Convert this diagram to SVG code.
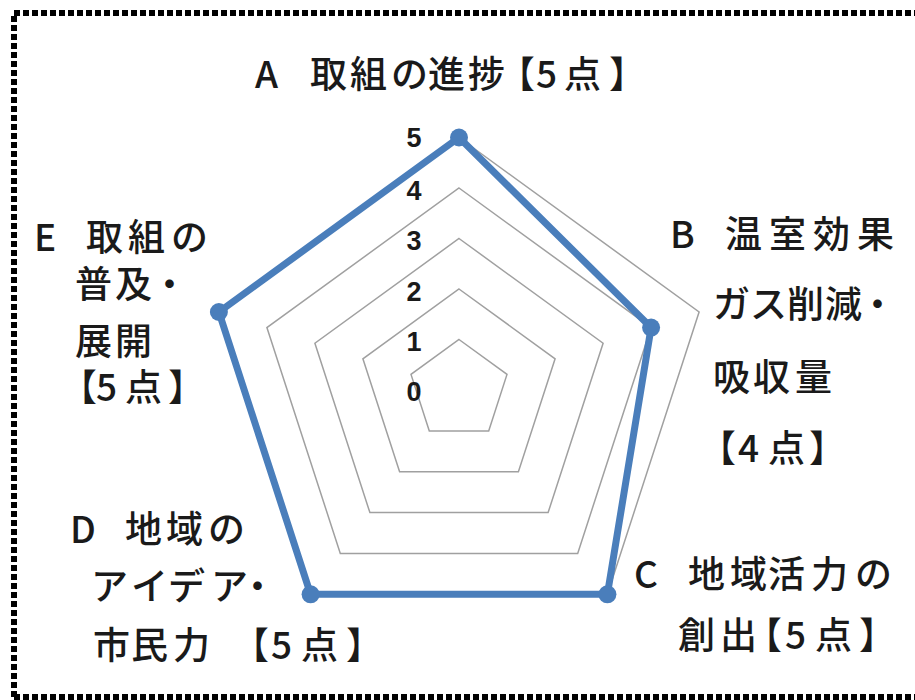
<svg xmlns="http://www.w3.org/2000/svg" width="915" height="700" viewBox="0 0 915 700">
<style>
.frame{fill:none;stroke:#000;stroke-width:6;stroke-dasharray:6 3}
.grid{fill:none;stroke:#a0a0a0;stroke-width:1.5}
.series{fill:none;stroke:#4a7ebb;stroke-width:7;stroke-linejoin:round}
.dot{fill:#4a7ebb}
.lbl{font-family:"Noto Sans CJK JP","Noto Sans",sans-serif;font-size:37px;font-weight:500;fill:#1a1a1a}
.tick{font-family:"Liberation Sans",Arial,sans-serif;font-size:27px;font-weight:bold;fill:#1a1a1a;text-anchor:middle}
</style>
<rect width="915" height="700" fill="#fff"/>
<g id="frame">
<path class="frame" d="M14 697 V13 H915"/>
<path class="frame" d="M14 697 H915"/>
</g>
<g id="grid">
<polygon class="grid" points="459,339.5 507,374.4 488.7,430.9 429.3,430.9 411,374.4"/>
<polygon class="grid" points="459,289 555.1,358.8 518.4,471.7 399.6,471.7 362.9,358.8"/>
<polygon class="grid" points="459,238.5 603.1,343.2 548.1,512.6 369.9,512.6 314.9,343.2"/>
<polygon class="grid" points="459,188 651.1,327.6 577.7,553.4 340.3,553.4 266.9,327.6"/>
<polygon class="grid" points="459,137.5 699.1,312 607.4,594.3 310.6,594.3 218.9,312"/>
</g>
<g id="ticks">
<text class="tick" x="414" y="147">5</text>
<text class="tick" x="414" y="200">4</text>
<text class="tick" x="414" y="250">3</text>
<text class="tick" x="414" y="301">2</text>
<text class="tick" x="414" y="351">1</text>
<text class="tick" x="414" y="401">0</text>
</g>
<g id="connectors">
<polygon class="series" points="459,137.5 651.1,327.6 607.4,594.3 310.6,594.3 218.9,312"/>
</g>
<g id="points">
<circle class="dot" cx="459" cy="137.5" r="9"/>
<circle class="dot" cx="651.1" cy="327.6" r="9"/>
<circle class="dot" cx="607.4" cy="594.3" r="9"/>
<circle class="dot" cx="310.6" cy="594.3" r="9"/>
<circle class="dot" cx="218.9" cy="312" r="9"/>
</g>
<g id="node-A">
<text class="lbl" x="255 310 350 391 428 468 498 536 564 609" y="88">A取組の進捗【5点】</text>
</g>
<g id="node-B">
<text class="lbl" x="670 725 769 813 857" y="248">B温室効果</text>
<text class="lbl" x="713 750 787 825 859" y="318">ガス削減・</text>
<text class="lbl" x="713 753 795" y="391">吸収量</text>
<text class="lbl" x="699 738 768 809" y="462">【4点】</text>
</g>
<g id="node-C">
<text class="lbl" x="634 688 730 768 811 855" y="588">C地域活力の</text>
<text class="lbl" x="678 720 745 785 815 859" y="649">創出【5点】</text>
</g>
<g id="node-D">
<text class="lbl" x="70 125 166 208" y="543">D地域の</text>
<text class="lbl" x="91 131 168 211 239" y="600">アイデア・</text>
<text class="lbl" x="93 131 173 232 271 301 346" y="659">市民力【5点】</text>
</g>
<g id="node-E">
<text class="lbl" x="34 86 128 171" y="251">E取組の</text>
<text class="lbl" x="75 115 151" y="298">普及・</text>
<text class="lbl" x="75 115" y="355">展開</text>
<text class="lbl" x="60 96 125 168" y="401">【5点】</text>
</g>
</svg>
